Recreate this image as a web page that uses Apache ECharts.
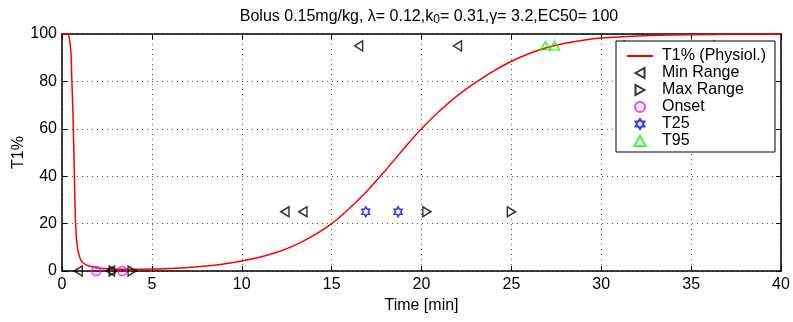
<!DOCTYPE html>
<html><head><meta charset="utf-8">
<script src="https://cdn.jsdelivr.net/npm/echarts@6/dist/echarts.min.js"></script>
<style>html,body{margin:0;padding:0;background:#fff}#c{width:793px;height:322px}</style>
</head><body><div id="c"></div>
<script>
const curveT = [0, 0.3, 0.35, 0.4, 0.45, 0.5, 0.55, 0.6, 0.65, 0.7, 0.75, 0.8, 0.85, 0.9, 1.0, 1.1, 1.25, 1.5, 2, 2.5, 3, 4, 5, 6, 7, 8, 9, 10, 11, 12, 13, 14, 15, 16, 17, 18, 19, 20, 21, 22, 23, 24, 25, 26, 27, 28, 29, 30, 32, 34, 36, 38, 40];
const curveV = [100, 100, 99.8, 98.5, 96, 92, 80, 69, 54, 36, 21, 14, 10.5, 8, 5.5, 4, 3, 2.1, 1.3, 0.9, 0.75, 0.7, 0.8, 1.1, 1.5, 2.1, 3, 4.2, 5.8, 8, 11, 15, 20, 26.5, 34, 42.5, 51.5, 60, 67.5, 74, 79.5, 84.3, 88.5, 91.8, 94.3, 96.1, 97.4, 98.3, 99.2, 99.6, 99.8, 99.9, 99.95];
const minRangeT = [0.9, 2.7, 12.4, 13.4, 16.5, 22.0];
const minRangeV = [0, 0, 25, 25, 95, 95];
const maxRangeT = [2.85, 3.9, 20.3, 25.0, 31.5, 36.5];
const maxRangeV = [0, 0, 25, 25, 95, 95];
const onsetT = [1.9, 3.35];
const onsetV = [0, 0];
const t25T = [16.9, 18.7];
const t25V = [25, 25];
const t95T = [26.9, 27.4];
const t95V = [95, 95];
const xTickValues = [0, 5, 10, 15, 20, 25, 30, 35, 40];
const yTickValues = [0, 20, 40, 60, 80, 100];

const FONT = 'Liberation Sans';
const pairs = (a, b) => a.map((v, i) => [v, b[i]]);
const hexagram = 'path://M0,-100 L28.87,-50 L86.6,-50 L57.7,0 L86.6,50 L28.87,50 L0,100 L-28.87,50 L-86.6,50 L-57.7,0 L-86.6,-50 L-28.87,-50 Z';
const triLeft = 'path://M0,5 L9,0 L9,10 Z';
const triRight = 'path://M9,5 L0,0 L0,10 Z';
const triUp = 'path://M5,0 L10,9 L0,9 Z';

const chart = echarts.init(document.getElementById('c'), null, {renderer: 'canvas'});
const axisCommon = {
  axisLine: {show: true, onZero: false, lineStyle: {color: '#000', width: 1.5}},
  axisTick: {show: true, inside: true, length: 5, lineStyle: {color: '#000', width: 1}},
};
const xMin = xTickValues[0], xMax = xTickValues[xTickValues.length - 1], xInt = xTickValues[1] - xTickValues[0];
const yMin = yTickValues[0], yMax = yTickValues[yTickValues.length - 1], yInt = yTickValues[1] - yTickValues[0];

const scatterStyle = (color) => ({color: 'rgba(0,0,0,0)', borderColor: color, borderWidth: 1.5});

chart.setOption({
  animation: false,
  backgroundColor: '#fff',
  title: {
    text: '{n|Bolus 0.15mg/kg, λ= 0.12,k}{s|0}{n|= 0.31,γ= 3.2,EC50= 100}',
    left: 424, top: 2, textAlign: 'center',
    textStyle: {fontWeight: 'normal', rich: {
      n: {fontFamily: FONT, fontSize: 16, fontWeight: 'normal', color: '#000'},
      s: {fontFamily: FONT, fontSize: 12, fontWeight: 'normal', color: '#000', verticalAlign: 'bottom', padding: [7, 0, 0, 0]}
    }}
  },
  grid: {left: 62, right: 12, top: 34, bottom: 51, containLabel: false, outerBoundsMode: 'none'},
  xAxis: [
    Object.assign({type: 'value', min: xMin, max: xMax, interval: xInt, position: 'bottom',
      name: 'Time [min]', nameLocation: 'middle', nameGap: 27, nameMoveOverlap: false,
      nameTextStyle: {fontFamily: FONT, fontSize: 16, color: '#000'},
      axisLabel: {fontFamily: FONT, fontSize: 16, color: '#000', margin: 6},
      splitLine: {show: true, lineStyle: {color: '#555', type: [1, 4], width: 1}}}, axisCommon),
    Object.assign({type: 'value', min: xMin, max: xMax, interval: xInt, position: 'top',
      axisLabel: {show: false}, splitLine: {show: false}}, axisCommon)
  ],
  yAxis: [
    Object.assign({type: 'value', min: yMin, max: yMax, interval: yInt, position: 'left',
      name: 'T1%', nameLocation: 'middle', nameGap: 35, nameRotate: 90, nameMoveOverlap: false,
      nameTextStyle: {fontFamily: FONT, fontSize: 16, color: '#000'},
      axisLabel: {fontFamily: FONT, fontSize: 16, color: '#000', margin: 5},
      splitLine: {show: true, lineStyle: {color: '#555', type: [1, 4], width: 1}}}, axisCommon),
    Object.assign({type: 'value', min: yMin, max: yMax, interval: yInt, position: 'right',
      axisLabel: {show: false}, splitLine: {show: false}}, axisCommon)
  ],
  legend: {
    orient: 'vertical', left: 616, top: 41,
    padding: [7, 9, 3, 10], itemGap: 1, itemWidth: 26, itemHeight: 10,
    backgroundColor: '#fff', borderColor: '#000', borderWidth: 1, borderRadius: 0,
    textStyle: {fontFamily: FONT, fontSize: 16, color: '#000', padding: [0, 0, 0, 4]},
    data: [
      {name: 'T1% (Physiol.)', itemStyle: {opacity: 0}},
      {name: 'Min Range', icon: triLeft},
      {name: 'Max Range', icon: triRight},
      {name: 'Onset'},
      {name: 'T25'},
      {name: 'T95', icon: triUp}
    ]
  },
  series: [
    {name: 'T1% (Physiol.)', type: 'line', data: pairs(curveT, curveV), showSymbol: false,
     smooth: 0.3,
     lineStyle: {color: '#ff0000', width: 1.5}, itemStyle: {color: '#ff0000'}, z: 2},
    {name: 'Min Range', type: 'scatter', data: pairs(minRangeT, minRangeV), symbol: triLeft, symbolKeepAspect: true,
     symbolSize: [9, 10], itemStyle: scatterStyle('#000'), z: 3, clip: false},
    {name: 'Max Range', type: 'scatter', data: pairs(maxRangeT, maxRangeV), symbol: triRight, symbolKeepAspect: true,
     symbolSize: [9, 10], itemStyle: scatterStyle('#000'), z: 3, clip: false},
    {name: 'Onset', type: 'scatter', data: pairs(onsetT, onsetV), symbol: 'circle', symbolKeepAspect: true,
     symbolSize: 9, itemStyle: scatterStyle('#ff00ff'), z: 3, clip: false},
    {name: 'T25', type: 'scatter', data: pairs(t25T, t25V), symbol: hexagram, symbolKeepAspect: true,
     symbolSize: [9, 10], itemStyle: scatterStyle('#0000ff'), z: 3, clip: false},
    {name: 'T95', type: 'scatter', data: pairs(t95T, t95V), symbol: triUp, symbolKeepAspect: true,
     symbolSize: [10, 9], itemStyle: scatterStyle('#00ff00'), z: 3, clip: false}
  ]
});
</script></body></html>
